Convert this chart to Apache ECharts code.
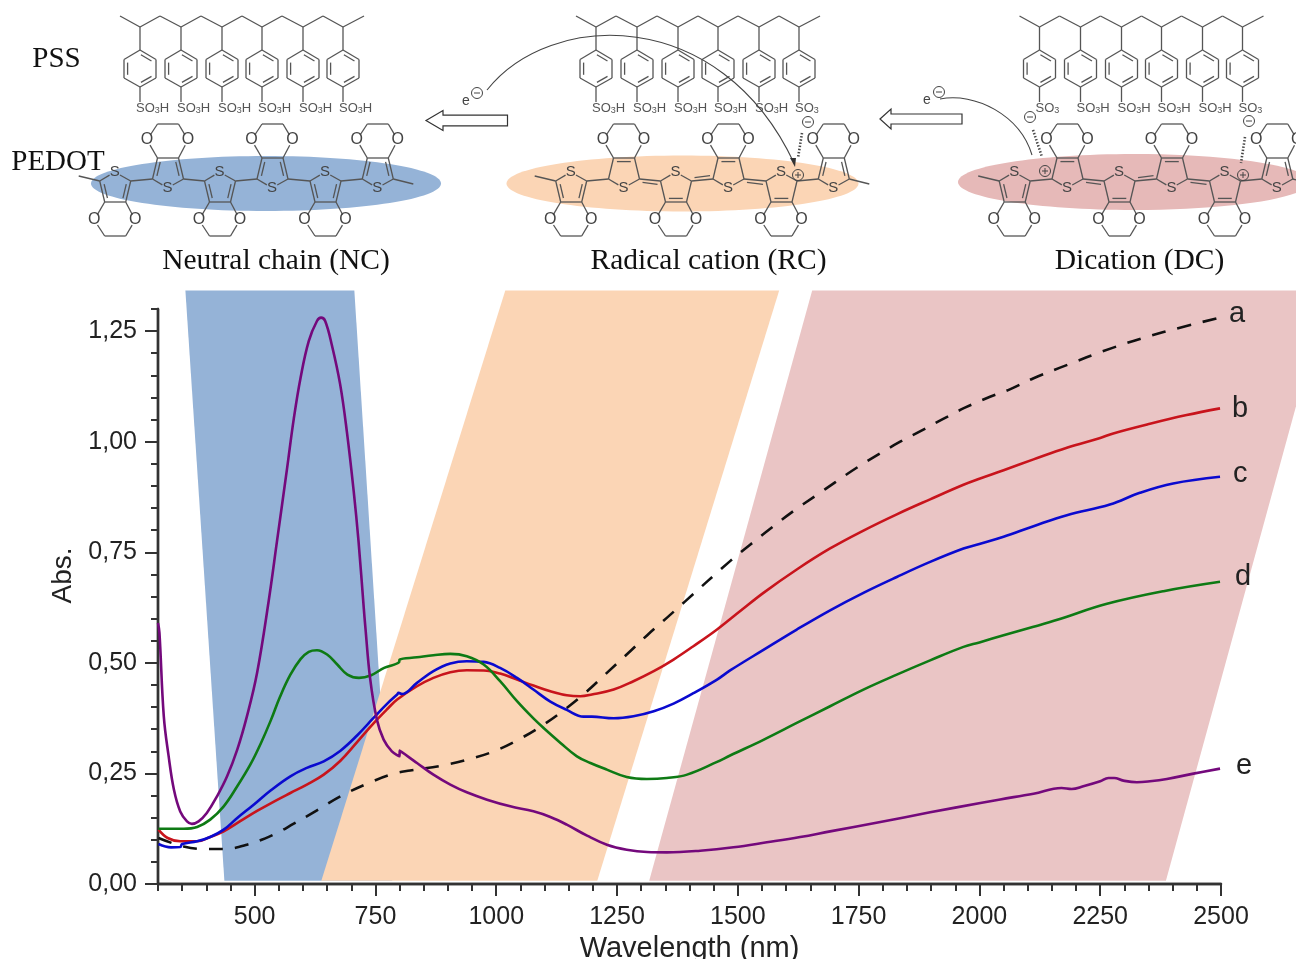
<!DOCTYPE html>
<html><head><meta charset="utf-8">
<style>html,body{margin:0;padding:0;background:#fff}#c{width:1296px;height:959px}</style>
<script src="https://cdn.jsdelivr.net/npm/echarts@6/dist/echarts.min.js"></script>
</head><body><div id="c"></div>
<script>
const xMajorTicks=[500,750,1000,1250,1500,1750,2000,2250,2500];
const yMajorTicks=[0,0.25,0.5,0.75,1,1.25];
const bandNeutral=[[356.7,1.342],[706.3,1.342],[784.9,0.0075],[437.4,0.0075]];
const bandRadical=[[1018.7,1.342],[1585.6,1.342],[1209.1,0.0075],[638.1,0.0075]];
const bandDication=[[1653.9,1.342],[2721,1.342],[2386,0.0075],[1316.6,0.0075]];
const curveA=[[301,.104],[353,.0849],[401,.0791],[436,.0791],[484,.0889],[539,.1115],[581,.1364],[629,.1666],[678,.1983],[733,.2269],[788,.2495],[822,.2565],[891,.2684],[946,.2827],[995,.300],[1046,.3265],[1098,.3603],[1146,.398],[1188,.4358],[1229,.4774],[1270,.5188],[1312,.562],[1353,.6017],[1391,.639],[1484,.73],[1526,.7675],[1567,.8033],[1615,.8431],[1660,.877],[1702,.9087],[1746,.9411],[1791,.9713],[1836,.9999],[1881,1.0256],[1926,1.052],[1970,1.0769],[2022,1.1015],[2063,1.1183],[2111,1.143],[2167,1.1674],[2277,1.2127],[2381,1.2478],[2498,1.2805]];
const curveB=[[301,.1229],[320,.104],[346,.0965],[381,.0965],[408,.1063],[436,.1191],[471,.1425],[505,.1651],[539,.1859],[574,.2058],[608,.2247],[643,.2472],[677,.2782],[712,.3207],[746,.3632],[774,.395],[795,.417],[836,.4471],[870,.466],[905,.4788],[939,.4833],[974,.4826],[1008,.4758],[1043,.4622],[1077,.4487],[1112,.4358],[1146,.4268],[1174,.4245],[1198,.4283],[1243,.4396],[1284,.4585],[1326,.4811],[1367,.5075],[1408,.5376],[1457,.5754],[1505,.6171],[1553,.6583],[1622,.7111],[1691,.7586],[1760,.7991],[1829,.8358],[1898,.8697],[1967,.9026],[2000,.9162],[2050,.9354],[2112,.96],[2181,.9864],[2250,1.0085],[2277,1.0188],[2353,1.0406],[2429,1.0602],[2498,1.0753]];
const curveC=[[301,.0904],[327,.0829],[346,.0836],[350,.0904],[381,.0965],[408,.1063],[436,.1229],[464,.1492],[498,.1792],[533,.2114],[574,.2435],[608,.2624],[643,.2774],[677,.3008],[712,.3358],[746,.3755],[774,.4074],[795,.4283],[798,.432],[805,.4295],[836,.4547],[870,.4811],[905,.4984],[939,.5037],[974,.5022],[1008,.4886],[1043,.466],[1077,.4396],[1112,.4124],[1146,.3936],[1181,.3785],[1198,.3785],[1243,.3747],[1284,.3792],[1326,.3906],[1367,.4079],[1408,.4313],[1457,.4622],[1484,.4828],[1553,.5293],[1622,.5753],[1691,.6188],[1760,.6583],[1829,.6942],[1898,.7282],[1967,.7584],[2000,.7687],[2050,.785],[2112,.809],[2181,.8339],[2270,.858],[2332,.8844],[2401,.9055],[2498,.9206]];
const curveD=[[301,.125],[353,.125],[381,.129],[408,.1455],[436,.1756],[464,.2209],[491,.2697],[512,.316],[533,.3688],[553,.4245],[574,.4731],[595,.5083],[612,.5249],[629,.5286],[650,.5188],[671,.4962],[692,.4736],[716,.466],[740,.4713],[768,.4886],[799,.5015],[800,.5075],[836,.5125],[870,.5173],[905,.5203],[939,.515],[974,.4962],[1008,.4585],[1043,.4133],[1077,.3743],[1098,.3527],[1133,.319],[1167,.2887],[1195,.2737],[1229,.2586],[1270,.242],[1312,.2375],[1353,.2398],[1395,.2473],[1457,.276],[1484,.2905],[1553,.326],[1622,.3641],[1691,.4019],[1760,.4396],[1829,.4734],[1898,.5056],[1967,.5361],[2000,.5462],[2050,.5623],[2112,.5815],[2163,.598],[2264,.6334],[2381,.662],[2498,.6832]];
const curveE=[[300,.59],[303,.568],[312,.379],[322,.289],[333,.213],[346,.164],[360,.1417],[370,.136],[384,.1417],[401,.1605],[422,.198],[443,.2435],[464,.3038],[484,.379],[505,.477],[529,.6394],[546,.7728],[567,.9386],[581,1.0517],[595,1.1442],[612,1.2276],[629,1.2729],[637.5,1.2805],[646,1.2729],[660,1.2176],[677,1.1296],[691,1.0216],[705,.888],[715,.775],[726,.622],[729,.5827],[739,.4647],[753,.3717],[767,.3265],[784,.30],[800,.2887],[800.1,.3016],[836,.2737],[870,.2472],[905,.2247],[939,.2073],[981,.1907],[1029,.1756],[1077,.1643],[1112,.1515],[1146,.1342],[1188,.1093],[1229,.0889],[1270,.0776],[1312,.0723],[1353,.0716],[1422,.0753],[1491,.0829],[1560,.0942],[1629,.1062],[1691,.119],[1795,.1401],[1898,.162],[2002,.1832],[2043,.1912],[2112,.2042],[2170,.2171],[2191,.2148],[2215,.2209],[2250,.2322],[2267,.2398],[2279,.2398],[2298,.2337],[2326,.23],[2353,.2322],[2388,.2375],[2443,.2495],[2498,.2609]];
const stateNames=['Neutral chain (NC)','Radical cation (RC)','Dication (DC)'];

const SANS='"Liberation Sans",Arial,sans-serif', SERIF='"Liberation Serif","Times New Roman",serif';
const els=[]; const LC='#555';
function line(x1,y1,x2,y2,w,c){els.push({type:'line',silent:true,shape:{x1,y1,x2,y2},style:{stroke:c||LC,lineWidth:w||1.3}});}
function txt(x,y,t,size,font,c,extra){els.push(Object.assign({type:'text',silent:true,x,y,style:{text:t,fontSize:size,fontFamily:font||SANS,fill:c||'#444',align:'center',verticalAlign:'middle'}},extra||{}));}
function inner(a,b,c){const k=.17,d=3.6;let mx=(a[0]+b[0])/2,my=(a[1]+b[1])/2,vx=c[0]-mx,vy=c[1]-my,l=Math.hypot(vx,vy);vx*=d/l;vy*=d/l;
 line(a[0]+(b[0]-a[0])*k+vx,a[1]+(b[1]-a[1])*k+vy,b[0]-(b[0]-a[0])*k+vx,b[1]-(b[1]-a[1])*k+vy);}
function gap(a,b,g){const l=Math.hypot(b[0]-a[0],b[1]-a[1]);return [a[0]+(b[0]-a[0])*g/l,a[1]+(b[1]-a[1])*g/l];}
function gl(a,b,ga,gb){const p=ga?gap(a,b,ga):a,q=gb?gap(b,a,gb):b;line(p[0],p[1],q[0],q[1]);}

function pssUnit(x,charged){
 line(x,27,x,50);
 const h=[[x,50],[x+16,59.5],[x+16,78],[x,87],[x-16,78],[x-16,59.5]],c=[x,68.5];
 h.forEach((p,i)=>gl(p,h[(i+1)%6]));
 inner(h[0],h[1],c);inner(h[2],h[3],c);inner(h[4],h[5],c);
 line(x,87,x,102);
 els.push({type:'text',silent:true,x:x-4,y:108,style:{text:charged?'{a|SO}{b|3}':'{a|SO}{b|3}{a|H}',fontFamily:SANS,fill:'#555',verticalAlign:'middle',
  rich:{a:{fontSize:13,fontFamily:SANS,fill:'#555'},b:{fontSize:9,fontFamily:SANS,fill:'#555',padding:[6,0,0,0]}}}});
}
function pss(dx,chargedIdx){
 const zz=[[120,16],[140,27],[160,16],[181,27],[201,16],[222,27],[242,16],[262,27],[282,16],[303,27],[323,16],[343,27],[364,16]];
 zz.slice(1).forEach((p,i)=>line(zz[i][0]+dx,zz[i][1],p[0]+dx,p[1]));
 [140,181,222,262,303,343].forEach((x,i)=>pssUnit(x+dx,chargedIdx.includes(i)));
}
function mono(sx,top,quin){
 const Y=y=>top?y:360-y;
 const P=(dx,y)=>[sx+dx,Y(y)];
 const S=P(0,172),Cl=P(-15,181),Cr=P(16,181),Bl=P(-10,202),Br=P(11,202),Ol=P(-20.5,220),Or=P(20.5,220),Tl=P(-10,236),Tr=P(11,236),c=P(0,190);
 gl(S,Cl,6);gl(S,Cr,6);gl(Cl,Bl);gl(Cr,Br);gl(Bl,Br);gl(Bl,Ol,0,6);gl(Br,Or,0,6);gl(Ol,Tl,6);gl(Or,Tr,6);gl(Tl,Tr);
 if(quin){inner(Bl,Br,c);}else{inner(Cl,Bl,c);inner(Cr,Br,c);}
 txt(S[0],S[1],'S',15);txt(Ol[0],Ol[1],'O',16);txt(Or[0],Or[1],'O',16);
 return {Cl,Cr};
}
function pedot(dx,charged){
 const sxs=[114.7,167.5,219.5,272,325,377.3].map(v=>v+dx);
 const rings=sxs.map((sx,i)=>mono(sx,i%2===0,charged&&i>0&&i<5));
 rings.slice(1).forEach((r,i)=>{const a=rings[i].Cr,b=r.Cl;line(a[0],a[1],b[0],b[1]);
  if(charged&&i>0&&i<4){line(a[0]+3,a[1]+3.4*(i%2?-1:1)*-1,b[0]-3,b[1]+3.4*(i%2?-1:1)*-1);}});
 const f=rings[0].Cl,l=rings[5].Cr;line(f[0],f[1],f[0]-21,f[1]-5);line(l[0],l[1],l[0]+20,l[1]+5);
}
function ring(x,y,sign){els.push({type:'circle',silent:true,shape:{cx:x,cy:y,r:5.5},style:{fill:'none',stroke:'#444',lineWidth:1}});line(x-3,y,x+3,y,1,'#444');if(sign==='+')line(x,y-3,x,y+3,1,'#444');}
function hash(x1,y1,x2,y2){els.push({type:'line',silent:true,shape:{x1,y1,x2,y2},style:{stroke:'#444',lineWidth:2.6,lineDash:[1.4,1.8]}});}
function blockArrow(tip,neck,end,yc,hb,hh){els.push({type:'polygon',silent:true,shape:{points:[[tip,yc],[neck,yc-hh],[neck,yc-hb],[end,yc-hb],[end,yc+hb],[neck,yc+hb],[neck,yc+hh]]},style:{fill:'#fff',stroke:'#333',lineWidth:1.2}});}
function arc(p0,p1,p2,p3,head){els.push({type:'bezierCurve',silent:true,shape:{x1:p0[0],y1:p0[1],cpx1:p1[0],cpy1:p1[1],cpx2:p2[0],cpy2:p2[1],x2:p3[0],y2:p3[1]},style:{stroke:'#444',lineWidth:1.1,fill:'none'}});
 if(head)els.push({type:'polygon',silent:true,shape:{points:[[p3[0]+1,p3[1]+4],[p3[0]-4,p3[1]-5],[p3[0]+2,p3[1]-5]]},style:{fill:'#333'}});}

els.push({type:'ellipse',silent:true,shape:{cx:266,cy:183.5,rx:175,ry:27.5},style:{fill:'#95B3D7'}});
els.push({type:'ellipse',silent:true,shape:{cx:682.5,cy:183.5,rx:176,ry:28},style:{fill:'#FBD5B5'}});
els.push({type:'ellipse',silent:true,shape:{cx:1134,cy:182,rx:176,ry:28},style:{fill:'#E6B9B8'}});
pss(0,[]);pss(456,[5]);pss(899.5,[0,5]);
pedot(0,false);pedot(456,true);pedot(899.5,true);
blockArrow(426,443,507.5,120.5,5.3,10);blockArrow(880,891,962,119,5,10);
arc([487,90],[550,10],[720,5],[794,163],true);
arc([940,99],[975,92],[1020,115],[1032,155],false);
txt(466,101,'e',14);ring(477,93,'-');txt(927,100,'e',14);ring(939,92,'-');
ring(808,122,'-');ring(1030,117,'-');ring(1249,121,'-');
ring(798,175,'+');ring(1045,171,'+');ring(1243,175,'+');
hash(802,133,798,158);hash(1033,130,1042,157);hash(1245,137,1241,163);
txt(56.5,59,'PSS',29,SERIF,'#111');txt(58,162,'PEDOT',29,SERIF,'#111');
txt(276,261,stateNames[0],29.5,SERIF,'#111');txt(708.5,261,stateNames[1],29.5,SERIF,'#111');txt(1139.5,261,stateNames[2],29.5,SERIF,'#111');

function bandSeries(data,color){return {type:'custom',coordinateSystem:'cartesian2d',silent:true,clip:false,z:1,data:[0],
 encode:{x:[],y:[]},renderItem:(p,api)=>({type:'polygon',shape:{points:data.map(d=>api.coord(d))},style:{fill:color}})};}
function curve(name,data,color,ox,oy,dash){return {name,type:'line',data,showSymbol:false,symbol:'none',smooth:.4,z:5,silent:true,
 lineStyle:{color,width:2.6,type:dash||'solid',cap:'butt',join:'round'},
 endLabel:{show:true,formatter:'{a}',fontFamily:SANS,fontSize:29,color:'#222',distance:10,offset:[ox,oy]}};}
const axLine={lineStyle:{color:'#333',width:2.4}};
const chart=echarts.init(document.getElementById('c'),null,{renderer:'canvas'});
chart.setOption({animation:false,backgroundColor:'#fff',
 grid:{left:158,right:75,top:309,bottom:75,containLabel:false,outerBoundsMode:'none'},
 graphic:{elements:els},
 xAxis:[{type:'value',min:300,max:2500,position:'bottom',axisLine:axLine,splitLine:{show:false},
   axisTick:{show:true,length:12,lineStyle:{color:'#333',width:2},customValues:xMajorTicks},
   axisLabel:{show:true,customValues:xMajorTicks,fontFamily:SANS,fontSize:25,color:'#222',margin:21,formatter:v=>String(v)},
   name:'Wavelength (nm)',nameLocation:'middle',nameGap:46,nameTextStyle:{fontFamily:SANS,fontSize:29,color:'#222'}},
  {type:'value',min:300,max:2500,interval:50,position:'bottom',axisLine:axLine,splitLine:{show:false},
   axisTick:{length:7,lineStyle:{color:'#333',width:2}},axisLabel:{show:false}}],
 yAxis:[{type:'value',min:0,max:1.3,position:'left',axisLine:axLine,splitLine:{show:false},
   axisTick:{show:true,length:13,lineStyle:{color:'#333',width:2},customValues:yMajorTicks},
   axisLabel:{show:true,customValues:yMajorTicks,fontFamily:SANS,fontSize:25,color:'#222',margin:21,padding:[3,0,0,0],formatter:v=>v.toFixed(2).replace('.',',')},
   name:'Abs.',nameLocation:'middle',nameGap:81,nameRotate:90,nameTextStyle:{fontFamily:SANS,fontSize:28,color:'#222',padding:[0,0,0,42]}},
  {type:'value',min:0,max:1.3,interval:.05,position:'left',axisLine:axLine,splitLine:{show:false},
   axisTick:{length:7,lineStyle:{color:'#333',width:2}},axisLabel:{show:false}}],
 series:[bandSeries(bandNeutral,'#95B3D7'),bandSeries(bandRadical,'#FBD5B5'),bandSeries(bandDication,'#EAC5C5'),
  curve('a',curveA,'#111',-1,-4,[14,12]),curve('b',curveB,'#C8141C',2,1,null),curve('c',curveC,'#0A0ACF',3,-3,null),
  curve('d',curveD,'#0E7A14',5,-5,null),curve('e',curveE,'#74097C',6,-3,null)]
});
</script></body></html>
